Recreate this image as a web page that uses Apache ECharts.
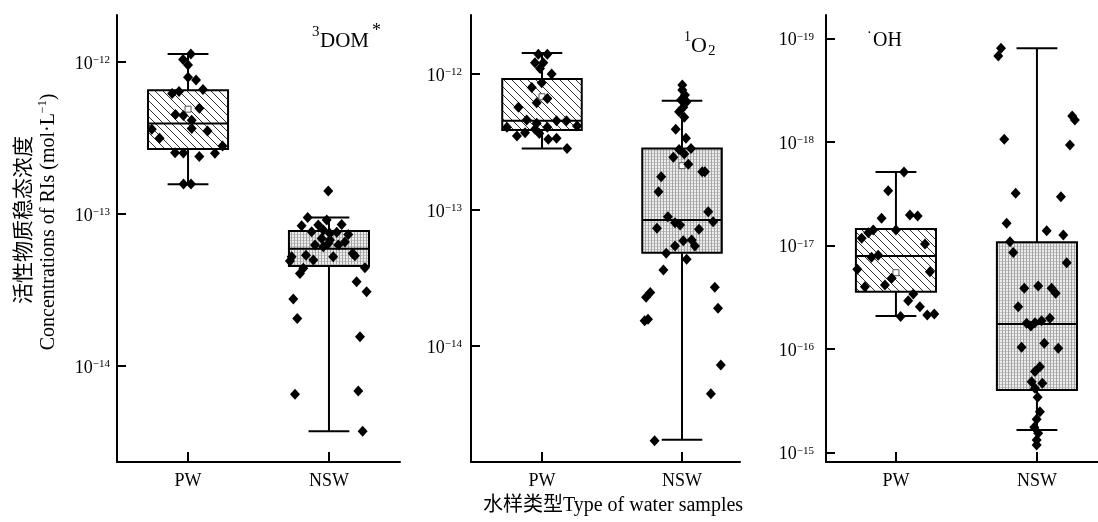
<!DOCTYPE html>
<html>
<head>
<meta charset="utf-8">
<script src="https://cdn.jsdelivr.net/npm/echarts@6/dist/echarts.min.js"></script>
<style>
  html, body { margin: 0; padding: 0; background: #fff; }
  #main { width: 1098px; height: 522px; }
</style>
</head>
<body>
<div id="main"></div>
<script>
// groups on the x axis: 0 = PW, 1 = NSW
var groups = ['PW', 'NSW'];

// tick values of the three log axes
var domTicks = [1e-14, 1e-13, 1e-12];
var o2Ticks = [1e-14, 1e-13, 1e-12];
var ohTicks = [1e-19, 1e-18, 1e-17, 1e-16, 1e-15];

// box statistics [lower whisker, Q1, median, Q3, upper whisker]
var domBoxPW = [1.57e-13, 2.68e-13, 3.95e-13, 6.52e-13, 1.13e-12];
var domBoxNSW = [3.73e-15, 4.55e-14, 5.92e-14, 7.73e-14, 9.51e-14];
var o2BoxPW = [2.84e-13, 3.88e-13, 4.54e-13, 9.19e-13, 1.43e-12];
var o2BoxNSW = [2.04e-15, 4.85e-14, 8.43e-14, 2.84e-13, 6.37e-13];
var ohBoxPW = [1.95e-18, 6.93e-18, 1.26e-17, 2.79e-17, 4.8e-17];
var ohBoxNSW = [1.25e-19, 9.3e-18, 5.73e-17, 2.48e-16, 6.04e-16];

// mean markers [group, value]
var domMean = [[0, 4.9e-13]];
var o2Mean = [[0, 6.81e-13], [1, 2.12e-13]];
var ohMean = [[0, 1.83e-17]];

// samples [jitter, value]
var domPtsPW = [
  [0.02, 1.13e-12], [-0.035, 1.04e-12], [0, 9.55e-13], [0, 7.96e-13], [0.057, 7.62e-13],
  [-0.113, 6.21e-13], [-0.064, 6.40e-13], [0.106, 6.59e-13], [0.08, 4.96e-13], [-0.089, 4.52e-13],
  [-0.033, 4.45e-13], [0.026, 4.15e-13], [-0.257, 3.61e-13], [-0.202, 3.15e-13], [0.026, 3.65e-13],
  [0.138, 3.52e-13], [0.245, 2.80e-13], [-0.092, 2.53e-13], [-0.033, 2.52e-13], [0.08, 2.39e-13],
  [0.191, 2.51e-13], [-0.032, 1.58e-13], [0.021, 1.58e-13]
];
var domPtsNSW = [
  [-0.005, 1.42e-13], [-0.151, 9.51e-14], [-0.194, 8.38e-14], [-0.076, 8.47e-14], [-0.016, 9.14e-14],
  [0.09, 8.55e-14], [-0.123, 7.65e-14], [-0.04, 7.85e-14], [0.007, 7.46e-14], [0.055, 7.59e-14],
  [0.137, 7.35e-14], [-0.052, 6.92e-14], [-0.099, 6.25e-14], [-0.005, 6.41e-14], [0.066, 6.25e-14],
  [-0.04, 6.10e-14], [0.007, 6.75e-14], [0.113, 6.55e-14], [-0.163, 5.37e-14], [0.03, 5.24e-14],
  [0.168, 5.51e-14], [0.184, 5.33e-14], [-0.277, 4.91e-14], [-0.111, 4.98e-14], [-0.265, 5.24e-14],
  [-0.182, 4.40e-14], [-0.206, 4.07e-14], [0.255, 4.44e-14], [0.196, 3.59e-14], [0.267, 3.08e-14],
  [-0.253, 2.76e-14], [-0.225, 2.06e-14], [0.22, 1.56e-14], [-0.241, 6.52e-15], [0.208, 6.85e-15],
  [0.239, 3.73e-15]
];
var o2PtsPW = [
  [-0.026, 1.40e-12], [0.038, 1.40e-12], [-0.05, 1.21e-12], [0.009, 1.21e-12], [-0.014, 1.10e-12],
  [0.069, 1.0e-12], [-0.002, 8.63e-13], [-0.073, 7.98e-13], [0.038, 6.62e-13], [-0.038, 6.15e-13],
  [-0.168, 5.69e-13], [-0.25, 4.06e-13], [-0.109, 4.59e-13], [-0.038, 4.34e-13], [0.104, 4.54e-13],
  [0.175, 4.54e-13], [0.25, 4.15e-13], [-0.179, 3.50e-13], [-0.121, 3.70e-13], [-0.05, 3.92e-13],
  [-0.019, 3.66e-13], [0.038, 4.06e-13], [0.045, 3.31e-13], [0.104, 3.37e-13], [0.179, 2.84e-13]
];
var o2PtsNSW = [
  [0.002, 8.30e-13], [0.002, 7.62e-13], [0.021, 7.01e-13], [-0.007, 6.44e-13], [0.033, 6.26e-13],
  [0.009, 5.69e-13], [-0.021, 5.28e-13], [0.016, 4.81e-13], [-0.045, 3.92e-13], [0.028, 3.37e-13],
  [0.064, 2.84e-13], [-0.021, 2.79e-13], [0.016, 2.58e-13], [-0.062, 2.44e-13], [0.045, 2.17e-13],
  [0.144, 1.91e-13], [0.163, 1.91e-13], [-0.149, 1.76e-13], [-0.168, 1.36e-13], [0.187, 9.72e-14],
  [-0.101, 8.93e-14], [-0.05, 8.07e-14], [-0.014, 7.76e-14], [-0.179, 7.33e-14], [0.121, 7.21e-14],
  [0.222, 8.20e-14], [0.009, 5.94e-14], [0.069, 6.01e-14], [-0.05, 5.43e-14], [0.092, 5.43e-14],
  [-0.113, 4.81e-14], [0.033, 4.34e-14], [-0.133, 3.62e-14], [-0.227, 2.47e-14], [-0.257, 2.28e-14],
  [0.234, 2.70e-14], [0.257, 1.89e-14], [-0.243, 1.57e-14], [-0.267, 1.53e-14], [0.277, 7.24e-15],
  [0.206, 4.44e-15], [-0.196, 2.01e-15]
];
var ohPtsPW = [
  [0.057, 1.95e-18], [-0.055, 2.96e-18], [-0.102, 5.46e-18], [0.099, 5.08e-18], [0.154, 5.19e-18],
  [-0.161, 7.08e-18], [-0.196, 7.52e-18], [0, 7.08e-18], [-0.243, 8.53e-18], [0.206, 9.68e-18],
  [-0.173, 1.30e-17], [-0.126, 1.24e-17], [-0.274, 1.70e-17], [0.241, 1.79e-17], [-0.03, 2.07e-17],
  [-0.078, 2.40e-17], [-0.22, 2.50e-17], [0.123, 2.94e-17], [0.087, 3.41e-17], [0.17, 3.90e-17],
  [0.222, 4.69e-17], [0.272, 4.58e-17], [0.033, 4.86e-17]
];
var ohPtsNSW = [
  [-0.255, 1.25e-19], [-0.274, 1.48e-19], [0.25, 5.62e-19], [0.269, 6.15e-19], [-0.232, 9.44e-19],
  [0.234, 1.07e-18], [-0.151, 3.13e-18], [0.17, 3.38e-18], [-0.215, 6.11e-18], [0.069, 7.19e-18],
  [0.187, 7.92e-18], [-0.191, 9.18e-18], [-0.168, 1.17e-17], [0.211, 1.47e-17], [-0.09, 2.59e-17],
  [0.009, 2.46e-17], [0.104, 2.59e-17], [0.133, 2.89e-17], [-0.133, 3.90e-17], [-0.073, 5.64e-17],
  [-0.043, 5.98e-17], [-0.014, 5.56e-17], [0.033, 5.32e-17], [0.092, 5.04e-17], [-0.109, 9.62e-17],
  [0.052, 8.79e-17], [0.151, 9.82e-17], [0.021, 1.48e-16], [-0.014, 1.65e-16], [-0.038, 2.07e-16],
  [0.038, 2.14e-16], [-0.014, 2.39e-16], [0.005, 2.92e-16], [0.021, 4.02e-16], [-0.002, 4.76e-16],
  [-0.019, 5.69e-16], [0.009, 6.50e-16], [-0.002, 7.54e-16], [-0.002, 8.43e-16]
];

var serif = "'Liberation Serif', 'Noto Sans CJK SC', serif";

// fill patterns: diagonal hatch for PW, fine grey mesh for NSW
function hatchCanvas() {
  var c = document.createElement('canvas');
  c.width = 8; c.height = 8;
  var ctx = c.getContext('2d');
  ctx.fillStyle = '#fff';
  ctx.fillRect(0, 0, 8, 8);
  ctx.strokeStyle = '#333';
  ctx.lineWidth = 1;
  ctx.beginPath();
  ctx.moveTo(-1, -1); ctx.lineTo(9, 9);
  ctx.moveTo(-1, 7); ctx.lineTo(1, 9);
  ctx.moveTo(7, -1); ctx.lineTo(9, 1);
  ctx.stroke();
  return c;
}
function meshCanvas() {
  var c = document.createElement('canvas');
  c.width = 3; c.height = 3;
  var ctx = c.getContext('2d');
  ctx.fillStyle = '#ececec';
  ctx.fillRect(0, 0, 3, 3);
  ctx.fillStyle = '#c4c4c4';
  ctx.fillRect(0, 0, 3, 1);
  ctx.fillStyle = '#a6a6a6';
  ctx.fillRect(0, 0, 1, 3);
  return c;
}
var fills = [
  { image: hatchCanvas(), repeat: 'repeat' },
  { image: meshCanvas(), repeat: 'repeat' }
];

function renderBox(params, api) {
  var g = api.value(0);
  var y = [1, 2, 3, 4, 5].map(function (k) { return api.coord([g, api.value(k)])[1]; });
  var cx = api.coord([g, api.value(3)])[0];
  var half = api.coord([g + 0.284, api.value(3)])[0] - cx;
  var cap = half * 0.51;
  var line = { stroke: '#000', lineWidth: 2 };
  return {
    type: 'group',
    children: [
      { type: 'line', shape: { x1: cx, y1: y[0], x2: cx, y2: y[1] }, style: line },
      { type: 'line', shape: { x1: cx, y1: y[3], x2: cx, y2: y[4] }, style: line },
      { type: 'line', shape: { x1: cx - cap, y1: y[0], x2: cx + cap, y2: y[0] }, style: line },
      { type: 'line', shape: { x1: cx - cap, y1: y[4], x2: cx + cap, y2: y[4] }, style: line },
      {
        type: 'rect',
        shape: { x: cx - half, y: Math.min(y[1], y[3]), width: 2 * half, height: Math.abs(y[1] - y[3]) },
        style: { fill: fills[g], stroke: '#000', lineWidth: 2 }
      },
      { type: 'line', shape: { x1: cx - half, y1: y[2], x2: cx + half, y2: y[2] }, style: line }
    ]
  };
}

function powLabel(v) {
  var e = Math.round(Math.log10(v));
  return '{b|10}{s|\u2212' + (-e) + '}';
}

var panels = [
  { left: 117, width: 283, xmin: -0.504, xmax: 1.504, ymin: 2.34e-15, ymax: 2.04e-12, ticks: domTicks, inverse: false, margin: 7,
    box: [domBoxPW, domBoxNSW], pw: domPtsPW, nsw: domPtsNSW, mean: domMean },
  { left: 471, width: 269, xmin: -0.507, xmax: 1.414, ymin: 1.40e-15, ymax: 2.72e-12, ticks: o2Ticks, inverse: false, margin: 9,
    box: [o2BoxPW, o2BoxNSW], pw: o2PtsPW, nsw: o2PtsNSW, mean: o2Mean },
  { left: 826, width: 272, xmin: -0.496, xmax: 1.433, ymin: 5.96e-20, ymax: 1.23e-15, ticks: ohTicks, inverse: true, margin: 12,
    box: [ohBoxPW, ohBoxNSW], pw: ohPtsPW, nsw: ohPtsNSW, mean: ohMean }
];

var grid = [], xAxis = [], yAxis = [], series = [];
panels.forEach(function (p, i) {
  grid.push({ left: p.left, width: p.width, top: 15, height: 447, containLabel: false, outerBoundsMode: 'none' });
  xAxis.push({
    type: 'value', gridIndex: i, min: p.xmin, max: p.xmax,
    axisLine: { onZero: false, lineStyle: { color: '#000', width: 2 } },
    axisTick: { inside: true, length: 10, lineStyle: { color: '#000', width: 2 }, customValues: [0, 1] },
    axisLabel: {
      customValues: [0, 1], margin: 10, color: '#000', fontSize: 18, fontFamily: serif,
      formatter: function (v) { return groups[Math.round(v)]; }
    },
    splitLine: { show: false }
  });
  yAxis.push({
    type: 'log', gridIndex: i, min: p.ymin, max: p.ymax, inverse: p.inverse,
    axisLine: { show: true, onZero: false, lineStyle: { color: '#000', width: 2 } },
    axisTick: { inside: true, length: 9, lineStyle: { color: '#000', width: 2 }, customValues: p.ticks },
    axisLabel: {
      customValues: p.ticks, margin: p.margin, color: '#000', formatter: powLabel,
      rich: {
        b: { fontSize: 18, fontFamily: serif, color: '#000', lineHeight: 22, verticalAlign: 'bottom', padding: [4, 0, 0, 0] },
        s: { fontSize: 11, fontFamily: serif, color: '#000', lineHeight: 11, verticalAlign: 'top', padding: [4, 0, 0, 0] }
      }
    },
    splitLine: { show: false }
  });
  series.push({
    type: 'custom', xAxisIndex: i, yAxisIndex: i, renderItem: renderBox, z: 2,
    encode: { x: 0, y: [1, 2, 3, 4, 5] },
    data: [[0].concat(p.box[0]), [1].concat(p.box[1])]
  });
  series.push({
    type: 'scatter', xAxisIndex: i, yAxisIndex: i, z: 3, symbol: 'rect', symbolSize: 6,
    itemStyle: { color: '#fff', borderColor: '#555', borderWidth: 1, opacity: 1 },
    data: p.mean
  });
  [p.pw, p.nsw].forEach(function (pts, g) {
    series.push({
      type: 'scatter', xAxisIndex: i, yAxisIndex: i, z: 4, symbol: 'diamond', symbolSize: [10, 11],
      itemStyle: { color: '#000', opacity: 1 },
      data: pts.map(function (d) { return [g + d[0], d[1]]; })
    });
  });
});

function txt(x, y, text, size, extra) {
  var style = { text: text, x: x, y: y, fontSize: size, fontFamily: serif, fill: '#000', align: 'left', verticalAlign: 'middle' };
  for (var k in extra || {}) style[k] = extra[k];
  return { type: 'text', style: style, silent: true };
}

var graphics = [
  // panel titles
  txt(312, 32, '3', 15), txt(320, 41, 'DOM', 21), txt(372, 31, '*', 18),
  txt(684, 37, '1', 14), txt(691, 46, 'O', 22), txt(708, 51, '2', 15),
  txt(867, 33, '\u00b7', 14), txt(873, 41, 'OH', 20),
  // x axis title
  txt(613, 506, '水样类型Type of water samples', 20, { align: 'center' })
];
graphics.push({
  type: 'text', x: 24, y: 220, rotation: Math.PI / 2, silent: true,
  style: { text: '活性物质稳态浓度', fontSize: 21, fontFamily: serif, fill: '#000', align: 'center', verticalAlign: 'middle' }
});
graphics.push({
  type: 'text', x: 48, y: 222, rotation: Math.PI / 2, silent: true,
  style: {
    text: '{a|Concentrations of RIs (mol\u00b7L}{s|\u22121}{a|)}',
    align: 'center', verticalAlign: 'middle',
    rich: {
      a: { fontSize: 20, fontFamily: serif, fill: '#000', lineHeight: 22, verticalAlign: 'bottom' },
      s: { fontSize: 12, fontFamily: serif, fill: '#000', lineHeight: 12, verticalAlign: 'top' }
    }
  }
});

var chart = echarts.init(document.getElementById('main'), null, { renderer: 'canvas' });
chart.setOption({
  animation: false,
  backgroundColor: '#fff',
  grid: grid,
  xAxis: xAxis,
  yAxis: yAxis,
  series: series,
  graphic: graphics
});
</script>
</body>
</html>
